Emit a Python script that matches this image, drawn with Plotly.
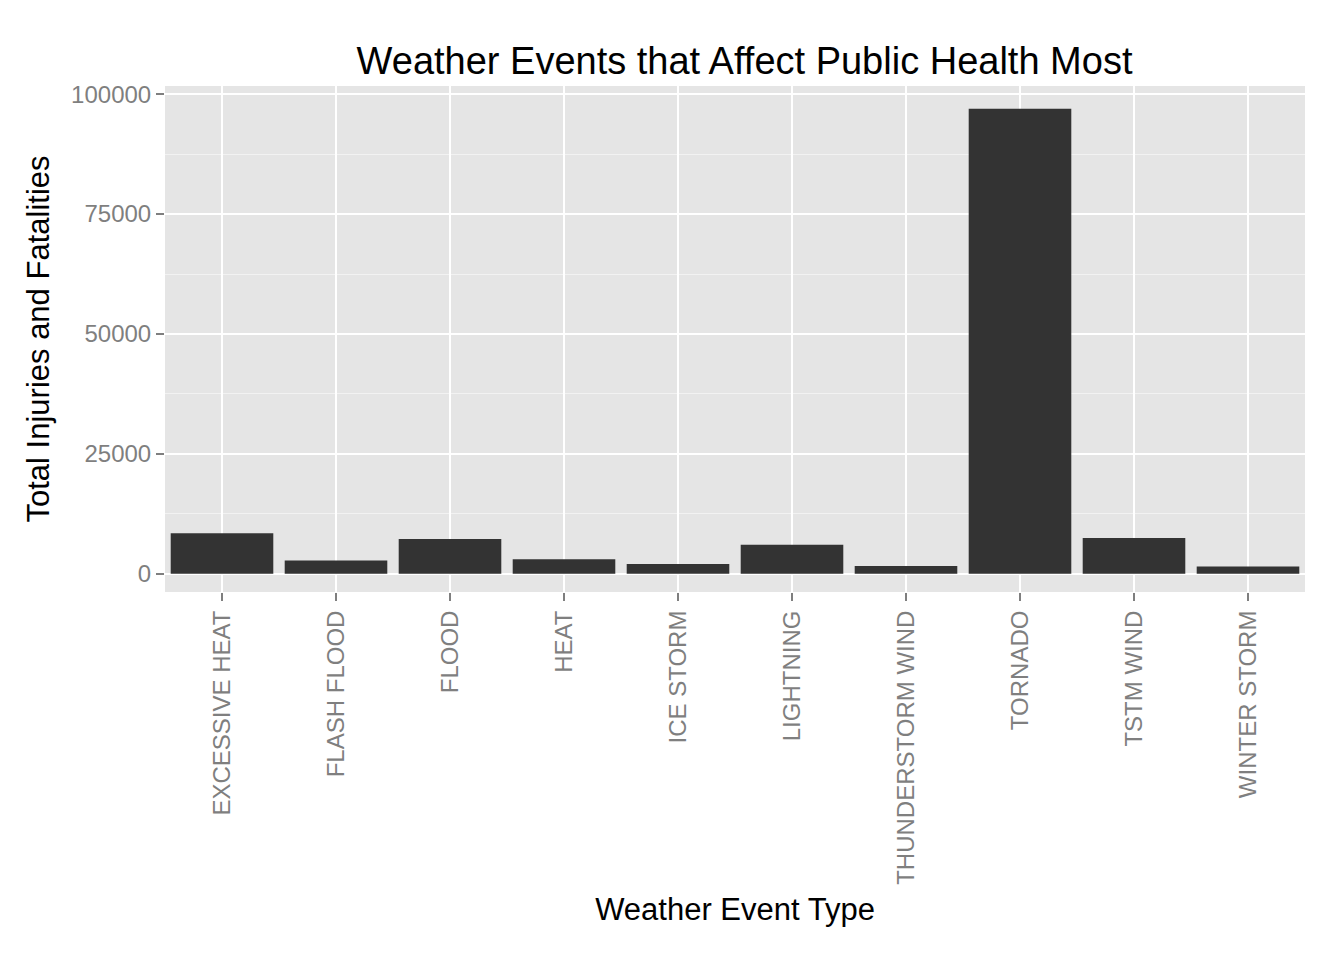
import plotly.graph_objects as go

events = ["EXCESSIVE HEAT", "FLASH FLOOD", "FLOOD", "HEAT", "ICE STORM",
          "LIGHTNING", "THUNDERSTORM WIND", "TORNADO", "TSTM WIND", "WINTER STORM"]
totals = [8428, 2755, 7259, 3037, 2064, 6046, 1621, 96979, 7461, 1527]
ytick_vals = [0, 25000, 50000, 75000, 100000]

fig = go.Figure()
fig.add_trace(go.Bar(x=events, y=totals, marker_color="#333333", marker_line_width=0, width=0.9))
fig.update_layout(
    width=1344, height=960,
    paper_bgcolor="white", plot_bgcolor="#E5E5E5",
    margin=dict(l=157, r=47, t=78, b=376),
    font=dict(family="Liberation Sans, Arial", size=20, color="black"),
    title=dict(text="Weather Events that Affect Public Health Most", x=0.548, xanchor="center",
               y=0.945, yanchor="middle", font=dict(size=38)),
    showlegend=False,
    bargap=0.1,
)
fig.update_xaxes(title=dict(text="Weather Event Type", font=dict(size=31), standoff=14),
                 tickangle=-90, tickfont=dict(size=24, color="#7F7F7F"),
                 showgrid=True, gridcolor="white", gridwidth=2,
                 ticks="outside", ticklen=8, tickcolor="#7F7F7F", tickwidth=2, zeroline=False)
fig.update_yaxes(title=dict(text="Total Injuries and Fatalities", font=dict(size=31), standoff=12),
                 range=[-3800, 101700], tickvals=ytick_vals,
                 ticktext=[str(v) for v in ytick_vals],
                 tickfont=dict(size=24, color="#7F7F7F"),
                 gridcolor="white", gridwidth=2,
                 minor=dict(dtick=12500, tick0=-12500, showgrid=True, gridcolor="#F2F2F2", gridwidth=1),
                 ticks="outside", ticklen=8, tickcolor="#7F7F7F", tickwidth=2, zeroline=False)
fig.write_html("out.html")
